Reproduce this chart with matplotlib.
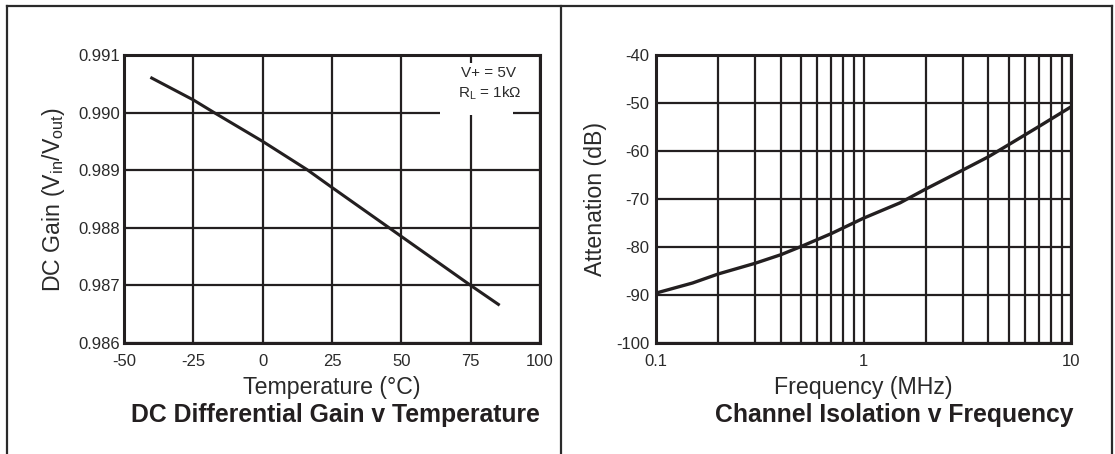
import numpy as np
import matplotlib
matplotlib.use('Agg')
import matplotlib.pyplot as plt
from matplotlib.patches import Rectangle
from matplotlib.lines import Line2D
from matplotlib.ticker import FixedLocator, NullFormatter, FixedFormatter

plt.rcParams['font.family'] = ['Liberation Sans', 'DejaVu Sans']
plt.rcParams['mathtext.fontset'] = 'custom'
plt.rcParams['mathtext.rm'] = 'Liberation Sans'
plt.rcParams['mathtext.it'] = 'Liberation Sans:italic'
plt.rcParams['axes.unicode_minus'] = False

ink = '#231f20'

# DC gain vs temperature
temp = [-40, -25, -17.5, 0, 16, 25, 45.6, 50, 75, 85]
gain = [0.99060, 0.99022, 0.99000, 0.98950, 0.98901, 0.98870, 0.98800, 0.98785, 0.98700, 0.98667]
temp_ticks = [-50, -25, 0, 25, 50, 75, 100]
gain_ticks = [0.986, 0.987, 0.988, 0.989, 0.990, 0.991]

# channel isolation vs frequency
freq = [0.1, 0.15, 0.2, 0.3, 0.4, 0.5, 0.7, 1.0, 1.5, 2.0, 3.0, 4.0, 5.0, 7.0, 10.0]
atten = [-89.6, -87.5, -85.6, -83.4, -81.6, -79.9, -77.2, -74.0, -70.8, -67.9, -64.0, -61.2, -58.7, -54.9, -50.8]
freq_major = [0.1, 1, 10]
freq_minor = [0.2, 0.3, 0.4, 0.5, 0.6, 0.7, 0.8, 0.9, 2, 3, 4, 5, 6, 7, 8, 9]
atten_ticks = [-100, -90, -80, -70, -60, -50, -40]

W, H = 1115, 454
fig = plt.figure(figsize=(W / 100, H / 100), dpi=100)
fig.patch.set_facecolor('white')


def px_axes(x0, x1, y0, y1):
    return fig.add_axes([x0 / W, (H - y1) / H, (x1 - x0) / W, (y1 - y0) / H])


def style(ax):
    ax.set_axisbelow(True)
    ax.grid(True, which='both', color=ink, lw=1.6)
    for s in ax.spines.values():
        s.set_linewidth(2.2)
        s.set_color(ink)
        s.set_zorder(3)
    ax.tick_params(which='both', length=0, labelsize=12, colors='#2a2a2a')


# outer frame
for xs, ys in [([7, 1112], [6, 6]), ([7, 7], [6, 454]), ([561, 561], [6, 454]), ([1112, 1112], [6, 454])]:
    fig.add_artist(Line2D([x / W for x in xs], [(H - y) / H for y in ys], color='#2a2a2a', lw=1.6))

# left chart
ax1 = px_axes(124, 540, 55, 343)
style(ax1)
ax1.plot(temp, gain, color=ink, lw=2.2, zorder=2)
ax1.set_xlim(-50, 100)
ax1.set_ylim(0.986, 0.991)
ax1.set_xticks(temp_ticks)
ax1.set_yticks(gain_ticks)
ax1.set_yticklabels(['%.3f' % v for v in gain_ticks])
ax1.tick_params(axis='x', pad=8)
ax1.tick_params(axis='y', pad=3)
ax1.add_patch(Rectangle((63.9, 0.98996), 26.4, 0.00090, facecolor='white', edgecolor='none', zorder=1))
ax1.text(81.3, 0.99069, 'V+ = 5V', ha='center', va='center', fontsize=11, color='#2a2a2a')
ax1.text(82.0, 0.99034, 'R$_{\\mathrm{L}}$ = 1kΩ', ha='center', va='center', fontsize=11, color='#2a2a2a')
ax1.set_xlabel('Temperature (°C)', fontsize=16.7, color='#2a2a2a', va='center')
ax1.xaxis.set_label_coords(0.5, -0.153)
ax1.set_ylabel('DC Gain (V$_{\\mathrm{in}}$/V$_{\\mathrm{out}}$)', fontsize=16.7, color='#2a2a2a', va='center')
ax1.yaxis.set_label_coords(-0.169, 0.5)
ax1.text(1.0, -0.25, 'DC Differential Gain v Temperature', transform=ax1.transAxes,
         ha='right', va='center', fontsize=17.8, fontweight='bold', color=ink)

# right chart
ax2 = px_axes(656, 1071, 55, 343)
style(ax2)
ax2.plot(freq, atten, color=ink, lw=2.4, zorder=2)
ax2.set_xscale('log')
ax2.set_xlim(0.1, 10)
ax2.set_ylim(-100, -40)
ax2.xaxis.set_major_locator(FixedLocator(freq_major))
ax2.xaxis.set_major_formatter(FixedFormatter(['0.1', '1', '10']))
ax2.xaxis.set_minor_locator(FixedLocator(freq_minor))
ax2.xaxis.set_minor_formatter(NullFormatter())
ax2.set_yticks(atten_ticks)
ax2.tick_params(axis='x', pad=8)
ax2.tick_params(axis='y', pad=5)
ax2.set_xlabel('Frequency (MHz)', fontsize=16.7, color='#2a2a2a', va='center')
ax2.xaxis.set_label_coords(0.5, -0.153)
ax2.set_ylabel('Attenation (dB)', fontsize=16.7, color='#2a2a2a', va='center')
ax2.yaxis.set_label_coords(-0.145, 0.5)
ax2.text(1.005, -0.25, 'Channel Isolation v Frequency', transform=ax2.transAxes,
         ha='right', va='center', fontsize=17.8, fontweight='bold', color=ink)

fig.savefig('out.png', dpi=100)
